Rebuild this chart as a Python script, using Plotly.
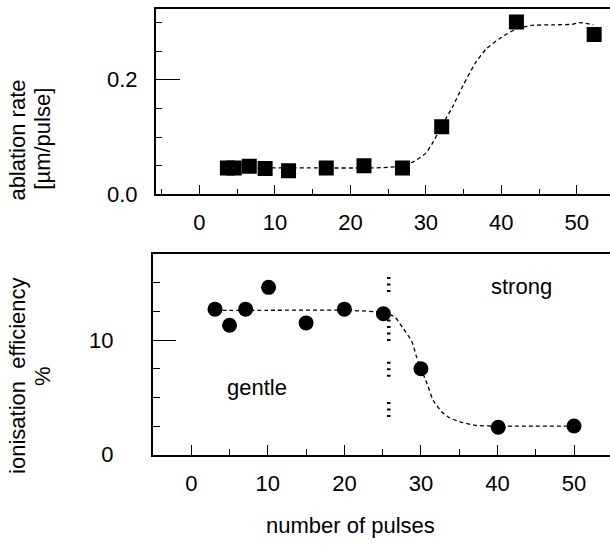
import plotly.graph_objects as go

# Ablation rate vs. number of pulses (upper panel)
pulses_rate = [3.7, 4.6, 6.6, 8.7, 11.8, 16.8, 21.8, 26.9, 32.1, 42.0, 52.3]
ablation_rate = [0.046, 0.046, 0.049, 0.045, 0.041, 0.046, 0.050, 0.046, 0.118, 0.301, 0.279]

# Sigmoidal fit through the ablation rate
fit_rate_x = [4, 10, 16, 22, 25, 27, 28.5, 30, 31, 32, 33.5, 35, 36.5, 38, 40, 42, 44, 47, 49.5, 50.3, 52.2]
fit_rate_y = [0.046, 0.046, 0.046, 0.046, 0.047, 0.050, 0.058, 0.072, 0.092, 0.117, 0.152, 0.192,
              0.228, 0.254, 0.274, 0.289, 0.295, 0.296, 0.297, 0.300, 0.296]

# Ionisation efficiency vs. number of pulses (lower panel)
pulses_eff = [3.1, 5.0, 7.1, 10.1, 15.0, 20.0, 25.1, 30.0, 40.1, 50.0]
ionisation_eff = [12.7, 11.3, 12.7, 14.6, 11.5, 12.7, 12.3, 7.5, 2.4, 2.5]

fit_eff_x = [3.1, 10, 20, 25, 26.6, 27.7, 28.8, 29.4, 30, 30.8, 31.6, 32.7, 33.8, 35.5, 37.3, 40, 50]
fit_eff_y = [12.6, 12.6, 12.6, 12.4, 12.0, 11.0, 9.9, 8.6, 7.5, 6.2, 4.75, 3.75, 3.2, 2.8, 2.55, 2.5, 2.5]

# Boundary between the gentle and strong regimes
boundary_x = 25.8
boundary_segments = [(15.5, 13.8), (11.8, 9.9), (8.1, 6.5), (4.6, 2.9)]

FONT = "Liberation Sans, Arial, sans-serif"
fs = 22

fig = go.Figure()

fig.add_trace(go.Scatter(x=fit_rate_x, y=fit_rate_y, mode="lines",
                         line=dict(color="black", width=1.3, dash="4px,3px", shape="spline", smoothing=0.6),
                         xaxis="x", yaxis="y", hoverinfo="skip"))
fig.add_trace(go.Scatter(x=pulses_rate, y=ablation_rate, mode="markers",
                         marker=dict(symbol="square", size=15, color="black"),
                         xaxis="x", yaxis="y"))

bx, by = [], []
for y0, y1 in boundary_segments:
    bx += [boundary_x, boundary_x, None]
    by += [y0, y1, None]
fig.add_trace(go.Scatter(x=bx, y=by, mode="lines",
                         line=dict(color="black", width=3.5, dash="2px,4.5px"),
                         xaxis="x2", yaxis="y2", hoverinfo="skip"))
fig.add_trace(go.Scatter(x=fit_eff_x, y=fit_eff_y, mode="lines",
                         line=dict(color="black", width=1.3, dash="4px,3px", shape="spline", smoothing=0.6),
                         xaxis="x2", yaxis="y2", hoverinfo="skip"))
fig.add_trace(go.Scatter(x=pulses_eff, y=ionisation_eff, mode="markers",
                         marker=dict(symbol="circle", size=15, color="black"),
                         xaxis="x2", yaxis="y2"))

W, H = 610, 552

def xdom(px_left):
    return [px_left / W, 1.0]

def ydom(px_top, px_bottom):
    return [1 - px_bottom / H, 1 - px_top / H]

axis_common = dict(showline=True, linecolor="black", linewidth=1.5, showgrid=False, zeroline=False,
                   ticks="inside", tickcolor="black", tickwidth=1.3,
                   tickfont=dict(family=FONT, size=fs, color="black"))

fig.update_layout(
    width=W, height=H, margin=dict(l=0, r=0, t=0, b=0),
    paper_bgcolor="white", plot_bgcolor="white", showlegend=False,
    font=dict(family=FONT, size=fs, color="black"),
    xaxis=dict(axis_common, domain=xdom(155.7), range=[-5.8, 54.4], anchor="y", mirror=True,
               tickmode="linear", tick0=0, dtick=10, ticklen=10, ticklabelstandoff=8,
               minor=dict(dtick=5, tick0=0, ticks="inside", ticklen=6, tickcolor="black", tickwidth=1.3)),
    yaxis=dict(axis_common, domain=ydom(9.3, 199), range=[0, 0.3235], anchor="x",
               tickmode="linear", tick0=0, dtick=0.2, ticklen=25, tickformat=".1f", ticklabelstandoff=12,
               minor=dict(dtick=0.05, tick0=0, ticks="inside", ticklen=7, tickcolor="black", tickwidth=1.3)),
    xaxis2=dict(axis_common, domain=xdom(152.7), range=[-5.04, 54.7], anchor="y2", mirror=True,
                tickmode="linear", tick0=0, dtick=10, ticklen=10, ticklabelstandoff=8,
                minor=dict(dtick=5, tick0=0, ticks="inside", ticklen=6, tickcolor="black", tickwidth=1.3)),
    yaxis2=dict(axis_common, domain=ydom(260, 465.7), range=[0, 17.52], anchor="x2",
                tickmode="linear", tick0=0, dtick=10, ticklen=24, ticklabelstandoff=33,
                minor=dict(dtick=2.5, tick0=0, ticks="inside", ticklen=8, tickcolor="black", tickwidth=1.3)),
)

def label(text, x, y, angle=0, xref="paper", yref="paper"):
    fig.add_annotation(text=text, x=x, y=y, xref=xref, yref=yref, showarrow=False,
                       textangle=angle, font=dict(family=FONT, size=fs, color="black"),
                       xanchor="center", yanchor="middle")

# axis titles
label("ablation rate", 18 / W, 1 - 144 / H, angle=-90)
label("[µm/pulse]", 43 / W, 1 - 142 / H, angle=-90)
label("ionisation\u00a0 efficiency", 18 / W, 1 - 385 / H, angle=-90)
label("%", 43 / W, 1 - 385 / H, angle=-90)
label("number of pulses", 350 / W, 1 - 538 / H)

# regime labels
fig.add_annotation(text="gentle", x=8.6, y=5.85, xref="x2", yref="y2", showarrow=False,
                   font=dict(family=FONT, size=fs, color="black"))
fig.add_annotation(text="strong", x=43.2, y=14.7, xref="x2", yref="y2", showarrow=False,
                   font=dict(family=FONT, size=fs, color="black"))

fig.write_html("out.html")
